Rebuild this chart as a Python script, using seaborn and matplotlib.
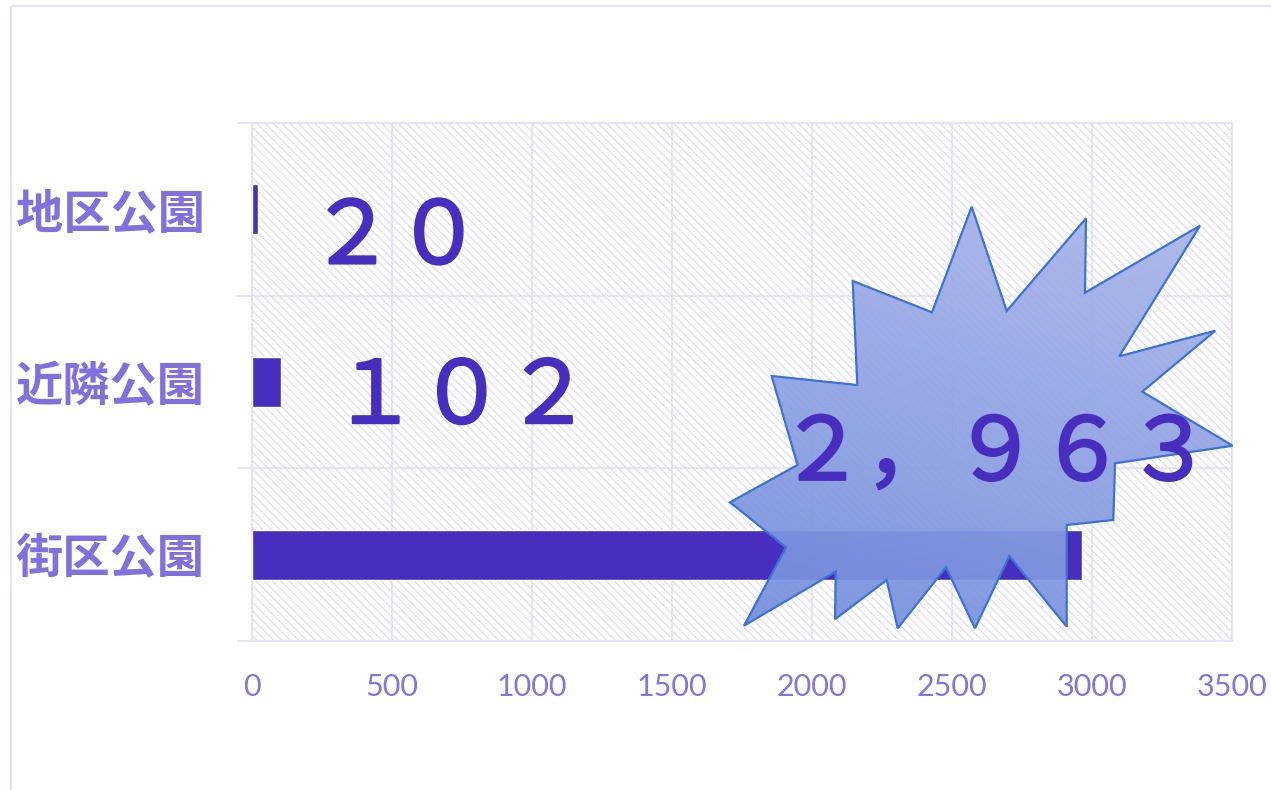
import numpy as np
import pandas as pd
import matplotlib
matplotlib.use("Agg")
import matplotlib.pyplot as plt
import matplotlib.patheffects as pe
import seaborn as sns
from matplotlib.patches import Polygon, Rectangle

# ---------------- data ----------------
categories = ["地区公園", "近隣公園", "街区公園"]
counts = [20, 102, 2963]
x_ticks = [0, 500, 1000, 1500, 2000, 2500, 3000, 3500]

# ---------------- style ----------------
W, H = 1271, 790
bar_color = "#482EBE"
label_color = "#482EBE"
tick_color = "#8773E1"
ylab_color = "#8270DE"
grid_color = "#E2DFF6"
hatch_color = "#DCD8F5"
burst_edge = "#3C73D2"
px = 0.72  # pixels -> points at dpi 100

# label offsets from bar end / bar centre, in pixels (dx right, dy down)
label_dx = [51, 51, -303]
label_dy = [54, 41, -75]

# decorative starburst outline (figure pixels)
BURST_PX = [
    (971.7, 206.7), (1006.7, 311), (1086, 218.3), (1085, 292.7),
    (1200, 225.7), (1119.3, 356.3), (1215.3, 330.7), (1142.3, 391.7),
    (1232.7, 445.7), (1115, 463.3), (1113.3, 520), (1066.7, 525),
    (1066.7, 626.7), (1009.3, 556), (975, 628.3), (946, 567.3),
    (897.7, 628.3), (886.7, 580), (835, 619.3), (835.7, 571.7),
    (744, 625.7), (786, 547.3), (730, 502.3), (797.5, 465),
    (771.7, 376), (857.3, 385), (852.7, 281), (932, 312.3),
]

sns.set_theme(style="white")
plt.rcParams["font.family"] = ["Noto Sans CJK JP", "DejaVu Sans"]
plt.rcParams["hatch.color"] = hatch_color
plt.rcParams["hatch.linewidth"] = 0.8

FW = str.maketrans("0123456789,", "０１２３４５６７８９，")

fig = plt.figure(figsize=(W / 100, H / 100), dpi=100)
fig.patch.set_facecolor("white")

ax = fig.add_axes([252 / W, 1 - 641 / H, 980 / W, 518 / H])
ax.patch.set_facecolor("white")

# hatched background
ax.add_patch(Rectangle((0, 0), 1, 1, transform=ax.transAxes, facecolor="white",
                       edgecolor=hatch_color, hatch="\\\\\\\\", lw=0, zorder=0))

df = pd.DataFrame({"category": categories, "count": counts})
sns.barplot(data=df, x="count", y="category", orient="h", color=bar_color,
            saturation=1, width=0.29, ax=ax, zorder=3)

ax.set_xlim(0, 3500)
ax.set_ylim(len(categories) - 0.5, -0.5)
ax.set_xlabel("")
ax.set_ylabel("")

# x ticks
ax.set_xticks(x_ticks)
ax.set_xticklabels([str(t) for t in x_ticks], fontsize=22, color=tick_color,
                   family=["Lato", "DejaVu Sans"])
ax.tick_params(axis="x", length=0, pad=23)

# y: boundaries as major ticks (grid), names as minor ticks
bounds = [i - 0.5 for i in range(len(categories) + 1)]
ax.set_yticks(bounds)
ax.set_yticklabels([""] * len(bounds))
ax.set_yticks(range(len(categories)), minor=True)
ax.set_yticklabels(categories, minor=True, fontsize=34, fontweight="bold",
                   color=ylab_color)
ax.tick_params(axis="y", which="major", left=True, length=10.8, width=1.2,
               color=grid_color, direction="out")
ax.tick_params(axis="y", which="minor", left=True, length=0, pad=34)

ax.set_axisbelow(True)
ax.grid(True, which="major", axis="both", color=grid_color, lw=1.2)
for s in ax.spines.values():
    s.set_color(grid_color)
    s.set_linewidth(1.2)

# overlay axes in figure pixels
ov = fig.add_axes([0, 0, 1, 1], zorder=5)
ov.set_xlim(0, W)
ov.set_ylim(H, 0)
ov.axis("off")
ov.patch.set_visible(False)

# figure frame
ov.add_patch(Rectangle((11, 6), W + 50, H + 50, fill=False, edgecolor="#E3E0F8",
                       lw=1.5, clip_on=False))

# starburst with gradient
poly = Polygon(BURST_PX, closed=True, facecolor="none", edgecolor=burst_edge,
               lw=1.6, zorder=6)
ov.add_patch(poly)
xs = [p[0] for p in BURST_PX]
ys = [p[1] for p in BURST_PX]
ny, nx = 200, 200
yy, xx = np.mgrid[0:1:ny * 1j, 0:1:nx * 1j]
t = np.clip(0.75 * yy + 0.25 * (1 - xx), 0, 1)[..., None]
top = np.array([172, 183, 233]) / 255
bot = np.array([116, 142, 221]) / 255
rgb = top + (bot - top) * t
grad = np.concatenate([rgb, np.full((ny, nx, 1), 0.93)], axis=2)
im = ov.imshow(grad, extent=[min(xs), max(xs), max(ys), min(ys)], aspect="auto",
               origin="upper", zorder=5, interpolation="bilinear")
im.set_clip_path(poly)
ov.set_xlim(0, W)
ov.set_ylim(H, 0)

# value labels
imax = int(np.argmax(counts))
for i, v in enumerate(counts):
    txt = f"{v:,}".translate(FW)
    target = ov if i == imax else ax
    target.annotate(txt, xy=(v, i), xycoords=ax.transData,
                    xytext=(label_dx[i] * px, -label_dy[i] * px),
                    textcoords="offset points", ha="left", va="baseline",
                    fontsize=62.5, color=label_color, fontweight="normal",
                    zorder=8, annotation_clip=False,
                    path_effects=[pe.withStroke(linewidth=1.8,
                                                foreground=label_color)])

fig.savefig("out.png", dpi=100, facecolor="white")
